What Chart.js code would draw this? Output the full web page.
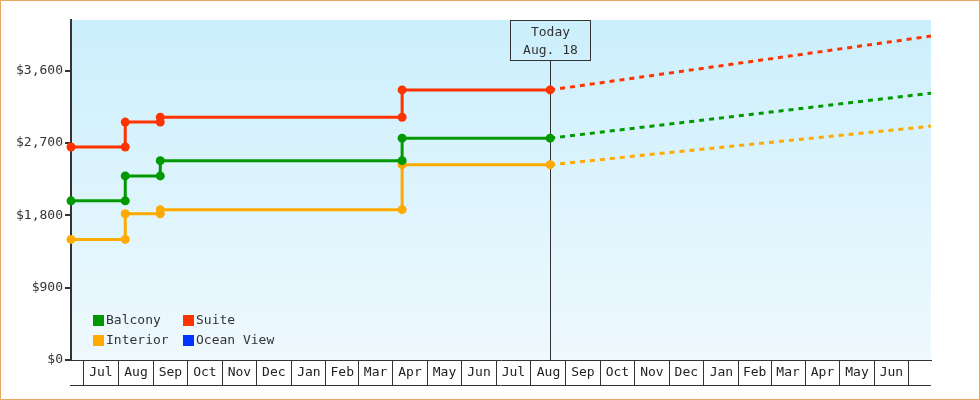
<!DOCTYPE html>
<html>
<head>
<meta charset="utf-8">
<script src="https://cdn.jsdelivr.net/npm/chart.js@4.4.1/dist/chart.umd.min.js"></script>
<style>
    html, body { margin: 0; padding: 0; background: #fff; }
    #frame { width: 980px; height: 400px; box-sizing: border-box; border: 1px solid #e8a860; }
    canvas { display: block; }
</style>
</head>
<body>
<div id="frame"><canvas id="priceChart" width="978" height="398"></canvas></div>
<script>
// --- Dados ---
const seriesNames = ['Balcony', 'Suite', 'Interior', 'Ocean View'];
const seriesColors = ['#009900', '#ff3300', '#ffaa00', '#0033ff'];

// datas em que o preço mudou (a última é "hoje")
const changeDates = ['2024-06-20', '2024-08-07', '2024-09-07', '2025-04-09', '2025-08-18'];
const balconyPrices = [1980, 2290, 2480, 2760];
const suitePrices = [2650, 2960, 3020, 3360];
const interiorPrices = [1500, 1820, 1870, 2430];
const oceanViewPrices = [];

// projeção até o fim do eixo
const forecastEndDate = '2026-07-21';
const balconyForecast = 3320;
const suiteForecast = 4030;
const interiorForecast = 2910;

const monthLabels = ['Jul', 'Aug', 'Sep', 'Oct', 'Nov', 'Dec', 'Jan', 'Feb', 'Mar', 'Apr', 'May', 'Jun',
                     'Jul', 'Aug', 'Sep', 'Oct', 'Nov', 'Dec', 'Jan', 'Feb', 'Mar', 'Apr', 'May', 'Jun'];
const firstMonth = '2024-07-01';
const todayDate = '2025-08-18';
const todayText = ['Today', 'Aug. 18'];
const yTicks = [0, 900, 1800, 2700, 3600];
const yMax = 4230;

// --- helpers ---
const toDay = s => Date.parse(s + 'T00:00:00Z') / 864e5;
const fmtMoney = v => '$' + v.toLocaleString('en-US');

// meio de cada mês para os rótulos do eixo X
const monthMids = monthLabels.map((m, i) => {
    const d0 = new Date(firstMonth + 'T00:00:00Z');
    const a = Date.UTC(d0.getUTCFullYear(), d0.getUTCMonth() + i, 1) / 864e5;
    const b = Date.UTC(d0.getUTCFullYear(), d0.getUTCMonth() + i + 1, 1) / 864e5;
    return (a + b) / 2;
});

function stepPoints(prices) {
    const pts = [];
    prices.forEach((p, i) => {
        pts.push({ x: toDay(changeDates[i]), y: p });
        pts.push({ x: toDay(changeDates[i + 1]), y: p });
    });
    return pts;
}

function forecastPoints(prices, endValue) {
    if (!prices.length) return [];
    return [
        { x: toDay(todayDate), y: prices[prices.length - 1] },
        { x: toDay(forecastEndDate), y: endValue }
    ];
}

const allPrices = [balconyPrices, suitePrices, interiorPrices, oceanViewPrices];
const allForecasts = [balconyForecast, suiteForecast, interiorForecast, null];

const datasets = [];
seriesNames.forEach((name, i) => {
    datasets.push({
        label: name,
        data: stepPoints(allPrices[i]),
        borderColor: seriesColors[i],
        backgroundColor: seriesColors[i],
        borderWidth: 3,
        pointRadius: 4.5,
        pointHoverRadius: 4.5,
        pointBorderWidth: 0,
        pointBackgroundColor: seriesColors[i],
        clip: false,
        isLegend: true
    });
});
seriesNames.forEach((name, i) => {
    if (allForecasts[i] === null) return;
    datasets.push({
        label: name + ' forecast',
        data: forecastPoints(allPrices[i], allForecasts[i]),
        borderColor: seriesColors[i],
        borderWidth: 3,
        borderDash: [5, 5],
        pointRadius: 0,
        clip: false
    });
});

// --- plugins ---
const fundoGradiente = {
    id: 'fundoGradiente',
    beforeDraw(chart) {
        const { ctx, chartArea: a } = chart;
        const g = ctx.createLinearGradient(0, a.top, 0, a.bottom);
        g.addColorStop(0, '#cbeffc');
        g.addColorStop(1, '#eff9fe');
        ctx.save();
        ctx.fillStyle = g;
        ctx.fillRect(a.left, a.top, a.right - a.left, a.bottom - a.top);
        ctx.restore();
    }
};

const marcadorHoje = {
    id: 'marcadorHoje',
    beforeDatasetsDraw(chart) {
        const { ctx, chartArea: a } = chart;
        const x = Math.round(chart.scales.x.getPixelForValue(toDay(todayDate))) + 0.5;
        const boxW = 80, boxH = 40;
        ctx.save();
        ctx.strokeStyle = '#333';
        ctx.lineWidth = 1;
        ctx.beginPath();
        ctx.moveTo(x, a.top + boxH);
        ctx.lineTo(x, a.bottom);
        ctx.stroke();
        ctx.strokeRect(x - boxW / 2, a.top + 0.5, boxW, boxH);
        ctx.fillStyle = '#333';
        ctx.font = '13px "DejaVu Sans Mono"';
        ctx.textAlign = 'center';
        ctx.textBaseline = 'middle';
        ctx.fillText(todayText[0], x, a.top + 13);
        ctx.fillText(todayText[1], x, a.top + 31);
        ctx.restore();
    }
};

const legendaInterna = {
    id: 'legendaInterna',
    afterDatasetsDraw(chart) {
        const { ctx, chartArea: a } = chart;
        ctx.save();
        ctx.font = '13px "DejaVu Sans Mono"';
        ctx.textBaseline = 'middle';
        ctx.textAlign = 'left';
        chart.data.datasets.filter(d => d.isLegend).forEach((d, i) => {
            const col = i % 2, row = Math.floor(i / 2);
            const x = a.left + 22 + col * 90;
            const y = a.bottom - 45 + row * 20;
            ctx.fillStyle = d.borderColor;
            ctx.fillRect(x, y, 11, 11);
            ctx.fillStyle = '#333';
            ctx.fillText(d.label, x + 13, y + 6);
        });
        ctx.restore();
    }
};

const linhaBase = {
    id: 'linhaBase',
    afterDraw(chart) {
        const { ctx } = chart;
        const sx = chart.scales.x, sy = chart.scales.y;
        ctx.save();
        ctx.strokeStyle = '#333';
        ctx.lineWidth = 1;
        ctx.beginPath();
        ctx.moveTo(sy.right - 1, sx.bottom + 0.5);
        ctx.lineTo(sx.right, sx.bottom + 0.5);
        ctx.stroke();
        ctx.restore();
    }
};

Chart.defaults.font.family = '"DejaVu Sans Mono", monospace';
Chart.defaults.font.size = 13;
Chart.defaults.color = '#333';

let priceChartInstance;

function inicializarGrafico() {
    const ctx = document.getElementById('priceChart').getContext('2d');
    priceChartInstance = new Chart(ctx, {
        type: 'line',
        data: { datasets },
        options: {
            responsive: false,
            animation: false,
            layout: { padding: { left: 0, top: 19, right: 48, bottom: 14 } },
            plugins: { legend: { display: false }, tooltip: { enabled: false } },
            scales: {
                x: {
                    type: 'linear',
                    bounds: 'data',
                    min: toDay(changeDates[0]),
                    max: toDay(forecastEndDate),
                    afterBuildTicks: scale => { scale.ticks = monthMids.map(v => ({ value: v })); },
                    afterFit: scale => { scale.height = 25; },
                    ticks: {
                        autoSkip: false,
                        maxRotation: 0,
                        padding: -20,
                        color: '#222',
                        callback: (v, i) => monthLabels[i]
                    },
                    grid: {
                        offset: true,
                        drawOnChartArea: false,
                        drawTicks: true,
                        tickLength: 25,
                        color: '#333',
                        lineWidth: 1
                    },
                    border: { display: true, color: '#333', width: 1 }
                },
                y: {
                    min: 0,
                    max: yMax,
                    afterBuildTicks: scale => { scale.ticks = yTicks.map(v => ({ value: v })); },
                    afterFit: scale => { scale.width = 70; },
                    ticks: {
                        padding: 2,
                        color: '#333',
                        callback: v => fmtMoney(v)
                    },
                    grid: {
                        drawOnChartArea: false,
                        drawTicks: true,
                        tickLength: 6,
                        color: '#333',
                        lineWidth: 2
                    },
                    border: { display: true, color: '#333', width: 2 }
                }
            }
        },
        plugins: [fundoGradiente, marcadorHoje, legendaInterna, linhaBase]
    });
}

document.addEventListener('DOMContentLoaded', inicializarGrafico);
</script>
</body>
</html>
